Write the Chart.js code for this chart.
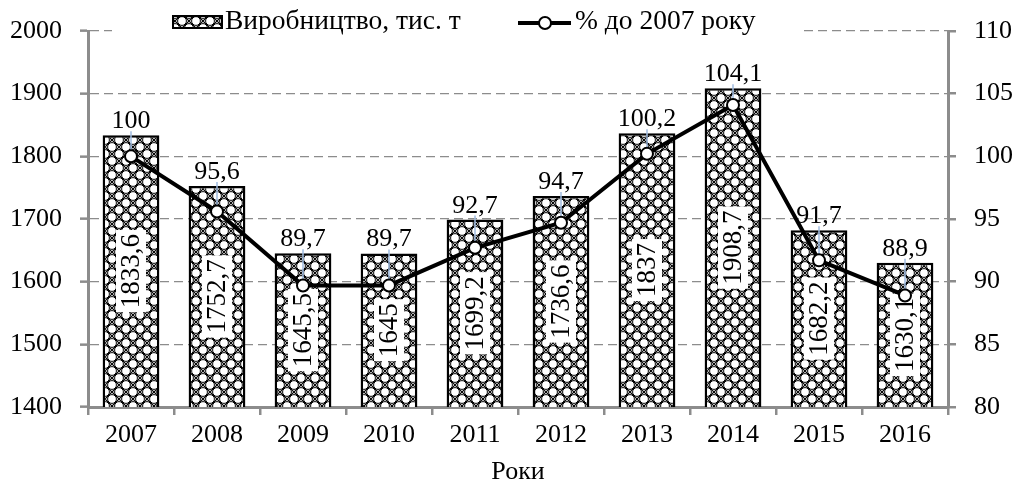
<!DOCTYPE html>
<html lang="uk">
<head>
    <meta charset="UTF-8">
    <title>Виробництво</title>
    <script src="https://cdn.jsdelivr.net/npm/chart.js"></script>
    <style>
        body { margin: 0; background: #fff; }
        #wrap { width: 1015px; height: 488px; }
    </style>
</head>
<body>
    <div id="wrap"><canvas id="chart"></canvas></div>

    <script>
        const years = ['2007', '2008', '2009', '2010', '2011', '2012', '2013', '2014', '2015', '2016'];
        const production = [1833.6, 1752.7, 1645.5, 1645, 1699.2, 1736.6, 1837, 1908.7, 1682.2, 1630.1];
        const percentOf2007 = [100, 95.6, 89.7, 89.7, 92.7, 94.7, 100.2, 104.1, 91.7, 88.9];
        const barLabel = 'Виробництво, тис. т';
        const lineLabel = '% до 2007 року';
        const axisTitle = 'Роки';

        const FONT = "'Liberation Serif', 'Times New Roman', serif";
        const GRAY = '#8c8c8c';

        // lattice hatch like the original fill
        function makePattern() {
            const s = 14;
            const c = document.createElement('canvas');
            c.width = s; c.height = s;
            const g = c.getContext('2d');
            g.fillStyle = '#fff';
            g.fillRect(0, 0, s, s);
            g.strokeStyle = '#000';
            g.lineWidth = 1.2;
            g.beginPath();
            g.moveTo(0, 0); g.lineTo(s, s);
            g.moveTo(s, 0); g.lineTo(0, s);
            g.stroke();
            g.lineWidth = 1;
            [[s / 2, 0], [s / 2, s], [0, s / 2], [s, s / 2]].forEach(([cx, cy]) => {
                g.beginPath();
                g.arc(cx, cy, 4.4, 0, Math.PI * 2);
                g.fillStyle = '#fff';
                g.fill();
                g.stroke();
            });
            return c;
        }
        const ctx0 = document.getElementById('chart').getContext('2d');
        const hatch = ctx0.createPattern(makePattern(), 'repeat');

        const fmt = v => String(v).replace('.', ',');

        // values inside the bars + leaders
        const labelPlugin = {
            id: 'labels',
            afterDatasetDraw(chart, args) {
                if (args.index !== 0) return;
                const c = chart.ctx;
                const bars = chart.getDatasetMeta(0).data;
                const pts = chart.getDatasetMeta(1).data;
                const bottom = chart.chartArea.bottom;
                c.save();
                bars.forEach((b, i) => {
                    const mid = (b.y + bottom) / 2;
                    const txt = fmt(production[i]);
                    c.font = '27px ' + FONT;
                    const w = c.measureText(txt).width;
                    c.fillStyle = '#fff';
                    c.fillRect(b.x - 15, mid - w / 2 - 4, 30, w + 8);
                    c.save();
                    c.translate(b.x, mid);
                    c.rotate(-Math.PI / 2);
                    c.fillStyle = '#000';
                    c.textAlign = 'center';
                    c.textBaseline = 'middle';
                    c.fillText(txt, 0, 1);
                    c.restore();

                    const top = b.y - 4;
                    const py = pts[i].y - 6;
                    if (py > top) {
                        c.strokeStyle = '#9fbbe0';
                        c.lineWidth = 1.5;
                        c.beginPath();
                        c.moveTo(b.x, top);
                        c.lineTo(b.x, py);
                        c.stroke();
                    }
                });
                c.restore();
            },
            afterDraw(chart) {
                const c = chart.ctx;
                const bars = chart.getDatasetMeta(0).data;
                c.save();
                c.font = '26px ' + FONT;
                c.fillStyle = '#000';
                c.textAlign = 'center';
                c.textBaseline = 'alphabetic';
                bars.forEach((b, i) => {
                    c.fillText(fmt(percentOf2007[i]), b.x, b.y - 7);
                });

                // legend
                c.fillStyle = '#fff';
                c.fillRect(112, 0, 690, 37);
                c.fillStyle = hatch;
                c.fillRect(173, 16, 49, 12);
                c.strokeStyle = '#000';
                c.lineWidth = 2;
                c.strokeRect(173, 16, 49, 12);
                c.fillStyle = '#000';
                c.font = '27.5px ' + FONT;
                c.textAlign = 'left';
                c.fillText(barLabel, 225, 29);
                c.lineWidth = 4;
                c.beginPath();
                c.moveTo(518, 23);
                c.lineTo(571, 23);
                c.stroke();
                c.beginPath();
                c.arc(545, 23, 6, 0, Math.PI * 2);
                c.fillStyle = '#fff';
                c.fill();
                c.lineWidth = 2;
                c.stroke();
                c.fillStyle = '#000';
                c.fillText(lineLabel, 575, 29);
                c.restore();
            }
        };

        new Chart(ctx0, {
            data: {
                labels: years,
                datasets: [
                    {
                        type: 'bar',
                        label: barLabel,
                        data: production,
                        backgroundColor: hatch,
                        borderColor: '#000',
                        borderWidth: 2.5,
                        borderSkipped: false,
                        barPercentage: 0.66,
                        categoryPercentage: 1,
                        yAxisID: 'y',
                        order: 2
                    },
                    {
                        type: 'line',
                        label: lineLabel,
                        data: percentOf2007,
                        borderColor: '#000',
                        borderWidth: 4,
                        pointRadius: 6,
                        pointBackgroundColor: '#fff',
                        pointBorderColor: '#000',
                        pointBorderWidth: 2,
                        tension: 0,
                        yAxisID: 'y1',
                        order: 1
                    }
                ]
            },
            options: {
                responsive: true,
                maintainAspectRatio: false,
                animation: false,
                layout: { padding: { top: 31, left: 0, right: 0, bottom: 0 } },
                plugins: {
                    legend: { display: false },
                    tooltip: { enabled: false }
                },
                scales: {
                    x: {
                        offset: true,
                        grid: { offset: true, drawOnChartArea: false, color: GRAY, lineWidth: 2.5, tickLength: 8 },
                        border: { color: GRAY, width: 3 },
                        ticks: { color: '#000', font: { family: FONT, size: 26 }, padding: 5, maxRotation: 0 },
                        title: { display: true, text: axisTitle, color: '#000', font: { family: FONT, size: 26 }, padding: 0 },
                        afterFit: s => { s.height = 81; }
                    },
                    y: {
                        position: 'left',
                        min: 1400, max: 2000,
                        ticks: { stepSize: 100, color: '#000', font: { family: FONT, size: 26, lineHeight: 1 }, padding: 18, callback: v => String(v) },
                        grid: { color: GRAY, lineWidth: 1.3, tickLength: 8, tickColor: GRAY, tickWidth: 2.5 },
                        border: { color: GRAY, width: 3, dash: [9, 5] },
                        afterFit: s => { s.width = 88; }
                    },
                    y1: {
                        position: 'right',
                        min: 80, max: 110,
                        ticks: { stepSize: 5, color: '#000', font: { family: FONT, size: 26, lineHeight: 1 }, padding: 18, callback: v => String(v) },
                        grid: { drawOnChartArea: false, color: GRAY, lineWidth: 2.5, tickLength: 8 },
                        border: { color: GRAY, width: 3 },
                        afterFit: s => { s.width = 67; }
                    }
                }
            },
            plugins: [labelPlugin]
        });
    </script>
</body>
</html>
